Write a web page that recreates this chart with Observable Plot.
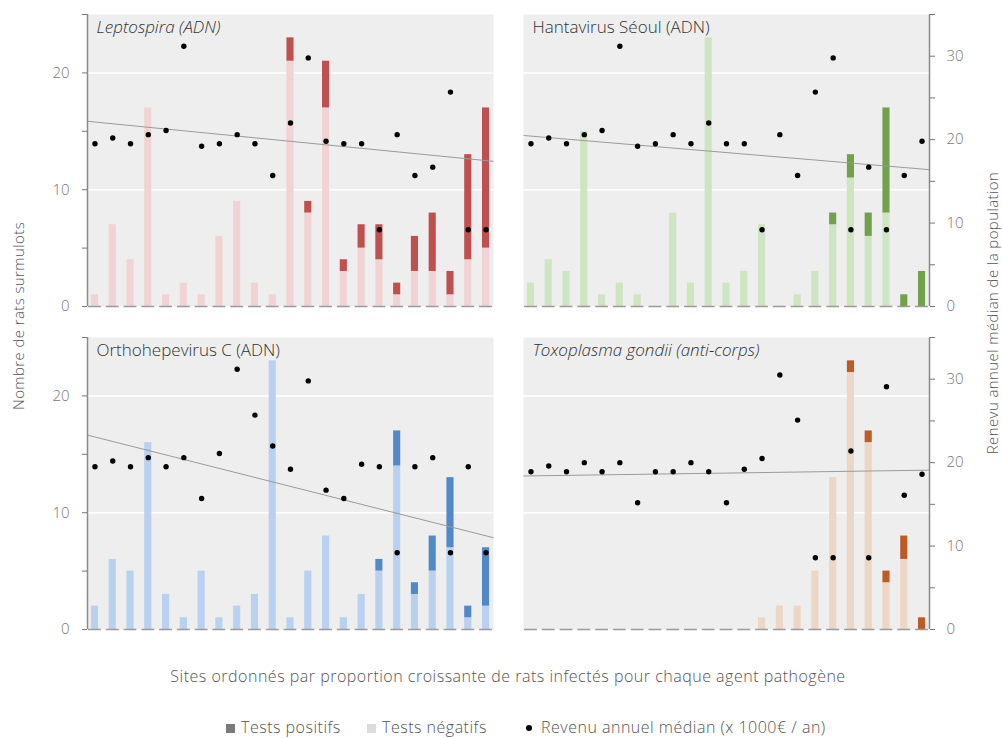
<!DOCTYPE html>
<html><head><meta charset="utf-8">
<script src="https://cdn.jsdelivr.net/npm/d3@7"></script>
<script src="https://cdn.jsdelivr.net/npm/@observablehq/plot@0.6"></script>
<style>
body{margin:0;background:#fff;font-family:"Open Sans",Lato,sans-serif;font-weight:300;}
#wrap{position:relative;width:1003px;height:738px;overflow:hidden;}
#chart{position:absolute;left:0;top:0;}
.lbl{position:absolute;color:#555;font-size:16px;letter-spacing:0.5px;white-space:nowrap;font-weight:300;}
.rot{transform:translate(-50%,-50%) rotate(-90deg);font-size:15px;letter-spacing:0.4px;line-height:18px;}
.sq{display:inline-block;width:9px;height:9px;margin-right:6px;vertical-align:0px;}
.dt{display:inline-block;width:6px;height:6px;border-radius:50%;background:#000;margin-right:9px;vertical-align:2px;}
</style></head><body>
<div id="wrap">
  <div id="chart"></div>
  <div class="lbl rot" style="left:18px;top:316px;">Nombre de rats surmulots</div>
  <div class="lbl rot" style="left:992px;top:313px;">Renevu annuel médian de la population</div>
  <div class="lbl" style="left:508px;top:676px;transform:translate(-50%,-50%);">Sites ordonnés par proportion croissante de rats infectés pour chaque agent pathogène</div>
  <div class="lbl" style="left:226px;top:727px;transform:translateY(-50%);"><span class="sq" style="background:#7a7a7a"></span>Tests positifs</div>
  <div class="lbl" style="left:367px;top:727px;transform:translateY(-50%);"><span class="sq" style="background:#dcdcdc"></span>Tests négatifs</div>
  <div class="lbl" style="left:526px;top:727px;transform:translateY(-50%);"><span class="dt"></span>Revenu annuel médian (x 1000€ / an)</div>
</div>
<script>
// ---- data ----
const sites = d3.range(1, 24);
const panelNames = ["Leptospira (ADN)", "Hantavirus Séoul (ADN)", "Orthohepevirus C (ADN)", "Toxoplasma gondii (anti-corps)"];
const panelItalic = [true, false, false, true];

const leptoNeg    = [1,7,4,17,1,2,1,6,9,2,1,21,8,17,3,5,4,1,3,3,1,4,5];
const leptoPos    = [0,0,0,0,0,0,0,0,0,0,0,2,1,4,1,2,3,1,3,5,2,9,12];
const leptoIncome = [19.5,20.2,19.5,20.6,21.1,31.2,19.2,19.5,20.6,19.5,15.7,22.0,29.8,19.8,19.5,19.5,9.2,20.6,15.7,16.7,25.7,9.2,9.2];

const hantaNeg    = [2,4,3,15,1,2,1,0,8,2,23,2,3,7,0,1,3,7,11,6,8,0,0];
const hantaPos    = [0,0,0,0,0,0,0,0,0,0,0,0,0,0,0,0,0,1,2,2,9,1,3];
const hantaIncome = [19.5,20.2,19.5,20.6,21.1,31.2,19.2,19.5,20.6,19.5,22.0,19.5,19.5,9.2,20.6,15.7,25.7,29.8,9.2,16.7,9.2,15.7,19.8];

const orthoNeg    = [2,6,5,16,3,1,5,1,2,3,23,1,5,8,1,3,5,14,3,5,7,1,2];
const orthoPos    = [0,0,0,0,0,0,0,0,0,0,0,0,0,0,0,0,1,3,1,3,6,1,5];
const orthoIncome = [19.5,20.2,19.5,20.6,19.5,20.6,15.7,21.1,31.2,25.7,22.0,19.2,29.8,16.7,15.7,19.8,19.5,9.2,19.5,20.6,9.2,19.5,9.2];

const toxoNeg     = [0,0,0,0,0,0,0,0,0,0,0,0,0,1,2,2,5,13,22,16,4,6,0];
const toxoPos     = [0,0,0,0,0,0,0,0,0,0,0,0,0,0,0,0,0,0,1,1,1,2,1];
const toxoIncome  = [18.9,19.6,18.9,20.0,18.9,20.0,15.2,18.9,18.9,20.0,18.9,15.2,19.2,20.5,30.5,25.1,8.6,8.6,21.4,8.6,29.1,16.1,18.6];

// trend line (income, read at left and right edge of each panel)
const trendStart = [22.2, 20.5, 23.3, 18.4];
const trendEnd   = [17.4, 16.4, 11.0, 19.1];

const countTicks  = [0,5,10,15,20,25];
const incomeTicks = [0,5,10,15,20,25,30,35];

// ---- styles ----
const negColors = ["#f1d3d3", "#cfe4c0", "#b9d0ee", "#ecd6c6"];
const posColors = ["#c0504f", "#72a04c", "#5188c8", "#bd5a28"];
const k = 25 / 35;             // income -> count axis
const xDom = [0.58, 23.42];

const series = [
  [leptoNeg, leptoPos, leptoIncome],
  [hantaNeg, hantaPos, hantaIncome],
  [orthoNeg, orthoPos, orthoIncome],
  [toxoNeg, toxoPos, toxoIncome]
];
const rows = [];
series.forEach(([neg, pos, inc], p) => sites.forEach((s, i) => rows.push({
  panel: p, col: p % 2, row: Math.floor(p / 2), site: s, neg: neg[i], pos: pos[i], income: inc[i]
})));
const panels = panelNames.map((name, p) => ({
  panel: p, col: p % 2, row: Math.floor(p / 2), name, italic: panelItalic[p],
  start: trendStart[p], end: trendEnd[p]
}));
const F = {fx: "col", fy: "row"};
const FONT = "'Open Sans', Lato, sans-serif";

const chart = Plot.plot({
  width: 1003, height: 650,
  marginLeft: 86, marginRight: 73, marginTop: 14, marginBottom: 21,
  style: {fontFamily: FONT, fontWeight: 300, fontSize: "15px", color: "#666", background: "transparent"},
  fx: {axis: null, paddingInner: 0.0686, paddingOuter: 0},
  fy: {axis: null, paddingInner: 0.096, paddingOuter: 0},
  x: {domain: xDom, axis: null},
  y: {domain: [0, 25], axis: null},
  marks: [
    Plot.frame({fill: "#edeeed", stroke: null}),
    Plot.gridY([10, 20], {stroke: "#ffffff", strokeOpacity: 1, strokeWidth: 1.5}),
    Plot.rectY(rows.filter(d => d.neg > 0), {...F, x1: d => d.site - 0.2, x2: d => d.site + 0.2, y1: 0, y2: "neg", fill: d => negColors[d.panel]}),
    Plot.rectY(rows.filter(d => d.pos > 0), {...F, x1: d => d.site - 0.2, x2: d => d.site + 0.2, y1: "neg", y2: d => d.neg + d.pos, fill: d => posColors[d.panel]}),
    Plot.ruleY(rows, {...F, x1: d => d.site - 0.36, x2: d => d.site + 0.36, y: 0, stroke: "#9a9a9a", strokeWidth: 1.5}),
    Plot.link(panels, {...F, x1: xDom[0], x2: xDom[1], y1: d => d.start * k, y2: d => d.end * k, stroke: "#9a9a9a", strokeWidth: 1}),
    Plot.dot(rows, {...F, x: "site", y: d => d.income * k, r: 2.7, fill: "#000", stroke: null}),
    Plot.text(panels.filter(d => d.italic), {...F, text: "name", frameAnchor: "top-left", lineAnchor: "top", dx: 9, dy: 6, fontSize: 17, fontStyle: "italic", fill: "#333", fontWeight: 300, fontFamily: FONT}),
    Plot.text(panels.filter(d => !d.italic), {...F, text: "name", frameAnchor: "top-left", lineAnchor: "top", dx: 9, dy: 6, fontSize: 17, fill: "#333", fontWeight: 300, fontFamily: FONT}),
    Plot.ruleX(panels.filter(d => d.col === 0), {...F, x: xDom[0], y1: 0, y2: 25, stroke: "#8a8a8a", strokeWidth: 1.5}),
    Plot.ruleX(panels.filter(d => d.col === 1), {...F, x: xDom[1], y1: 0, y2: 25, stroke: "#8a8a8a", strokeWidth: 1.5}),
    Plot.axisY(countTicks, {anchor: "left", facetAnchor: "left", label: null, tickSize: 5, tickPadding: 13,
      tickFormat: d => d % 10 === 0 ? d : "", color: "#777", fontSize: 15}),
    Plot.axisY(incomeTicks.map(v => v * k), {anchor: "right", facetAnchor: "right", label: null, tickSize: 5, tickPadding: 12,
      tickFormat: d => { const v = Math.round(d / k); return v % 10 === 0 ? v : ""; }, color: "#777", fontSize: 15})
  ]
});
document.getElementById("chart").appendChild(chart);
</script>
</body></html>
